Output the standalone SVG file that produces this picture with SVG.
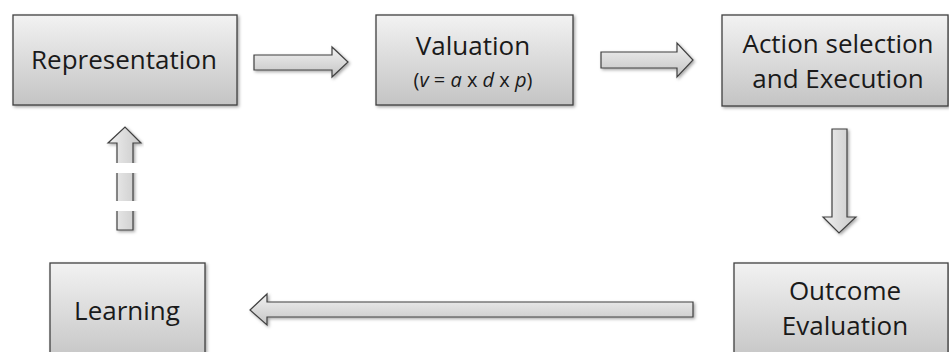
<svg xmlns="http://www.w3.org/2000/svg" width="949" height="352" viewBox="0 0 949 352">
<defs>
<linearGradient id="g" x1="0" y1="0" x2="0" y2="1"><stop offset="0" stop-color="#f2f2f2"/><stop offset="1" stop-color="#c4c4c4"/></linearGradient>
<linearGradient id="gv" x1="0" y1="0" x2="1" y2="0"><stop offset="0" stop-color="#f0f0f0"/><stop offset="1" stop-color="#c8c8c8"/></linearGradient>
<filter id="sh" x="-10%" y="-10%" width="130%" height="130%"><feDropShadow dx="1.5" dy="1.5" stdDeviation="1.5" flood-color="#000" flood-opacity="0.35"/></filter>
<mask id="dash"><rect x="100" y="120" width="50" height="120" fill="#fff"/><rect x="100" y="163" width="50" height="10" fill="#000"/><rect x="100" y="201" width="50" height="10" fill="#000"/></mask>
<style>
.box{fill:url(#g);stroke:#404040;stroke-width:1.3;filter:url(#sh)}
.arr{fill:url(#g);stroke:#404040;stroke-width:1.2;stroke-linejoin:miter;filter:url(#sh)}
.arrv{fill:url(#gv);stroke:#404040;stroke-width:1.2;filter:url(#sh)}
.t{font-family:"Open Sans","Noto Sans",sans-serif;font-size:26px;fill:#1a1a1a;text-anchor:middle}
.s{font-family:"Open Sans","Noto Sans",sans-serif;font-size:20px;fill:#1a1a1a;text-anchor:middle}
</style>
</defs>
<g id="connectors">
<polygon class="arr" points="254,55 332,55 332,47 348,62 332,77 332,70 254,70"/>
<polygon class="arr" points="601,52 677,52 677,43 693,60 677,77 677,68 601,68"/>
<polygon class="arrv" points="832,129 847,129 847,217 856,217 839,233 823,217 832,217"/>
<polygon class="arr" points="693,302 267,302 267,294 250,310 267,325 267,317 693,317"/>
<g mask="url(#dash)"><polygon class="arrv" points="117,230 117,143 108,143 125,127 141,143 133,143 133,230"/></g>
</g>
<g id="representation"><rect class="box" x="13" y="15" width="224" height="90"/><text class="t" x="124" y="69">Representation</text></g>
<g id="valuation"><rect class="box" x="376" y="15" width="197" height="90"/><text class="t" x="473" y="55">Valuation</text><text class="s" x="473" y="87">(<tspan font-style="italic">v</tspan> = <tspan font-style="italic">a</tspan> x <tspan font-style="italic">d</tspan> x <tspan font-style="italic">p</tspan>)</text></g>
<g id="action"><rect class="box" x="722" y="15" width="226" height="91"/><text class="t" x="838" y="53">Action selection</text><text class="t" x="838" y="88">and Execution</text></g>
<g id="outcome"><rect class="box" x="734" y="263" width="214" height="100"/><text class="t" x="845" y="300">Outcome</text><text class="t" x="845" y="335">Evaluation</text></g>
<g id="learning"><rect class="box" x="50" y="263" width="155" height="100"/><text class="t" x="127" y="320">Learning</text></g>
</svg>
